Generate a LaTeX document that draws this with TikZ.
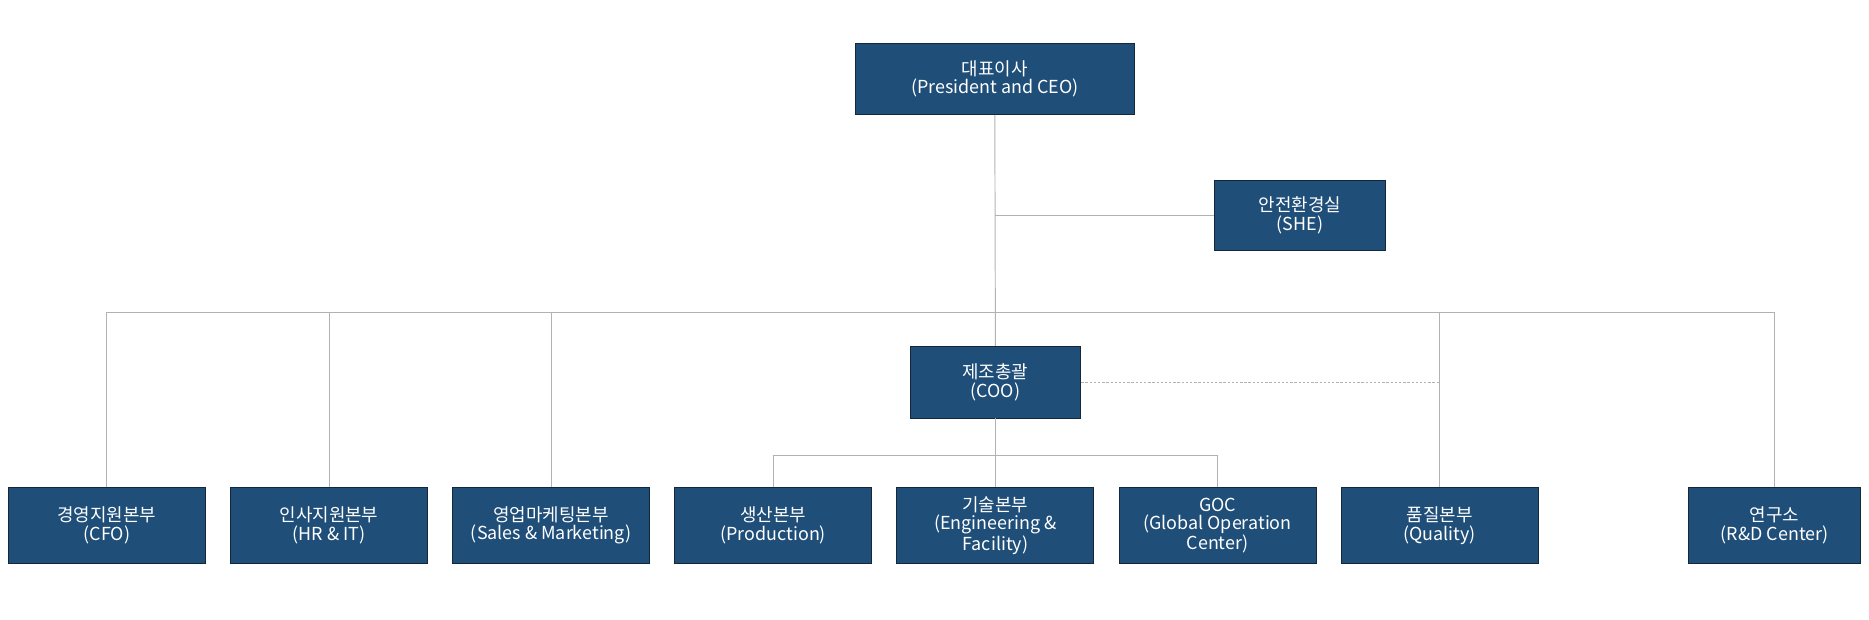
\documentclass[tikz,border=0pt]{standalone}
\usepackage{fontspec}
\setmainfont{Noto Sans CJK KR}
\begin{document}
\begin{tikzpicture}[x=1pt,y=-1pt,
 box/.style={draw={rgb,255:red,20;green,40;blue,60},line width=0.8pt,fill={rgb,255:red,31;green,78;blue,121},text=white,align=center,font=\fontsize{15}{15.5}\selectfont,inner sep=0pt},
 ln/.style={draw=black!30,line width=0.8pt}]
\useasboundingbox (0,0) rectangle (1565,519);
\newcommand\bx[6]{\node[box,minimum width=#4-#2,minimum height=#5-#3] (#1) at ({(#2+#4)/2},{(#3+#5)/2}) {#6};}
\bx{ceo}{716}{36}{950}{96}{대표이사\\(President and CEO)}
\bx{she}{1017}{151}{1160}{210}{안전환경실\\(SHE)}
\bx{coo}{762}{290}{905}{350}{제조총괄\\(COO)}
\bx{cfo}{7}{408}{172}{472}{경영지원본부\\(CFO)}
\bx{hr}{193}{408}{358}{472}{인사지원본부\\(HR \& IT)}
\bx{sm}{379}{408}{544}{472}{영업마케팅본부\\(Sales \& Marketing)}
\bx{pr}{565}{408}{730}{472}{생산본부\\(Production)}
\bx{en}{751}{408}{916}{472}{기술본부\\(Engineering \&\\Facility)}
\bx{goc}{937}{408}{1102}{472}{GOC\\(Global Operation\\Center)}
\bx{qu}{1123}{408}{1288}{472}{품질본부\\(Quality)}
\bx{rd}{1414}{408}{1558}{472}{연구소\\(R\&D Center)}
\coordinate (b1) at (833.5,262);
\coordinate (b2) at (833.5,381);
\draw[ln] (ceo.south) -- (coo.north);
\draw[ln] (ceo.south |- she.west) -- (she.west);
\draw[ln] (cfo.north) |- (b1) -| (rd.north);
\draw[ln] (hr.north) |- (b1);
\draw[ln] (sm.north) |- (b1);
\draw[ln] (qu.north) |- (b1);
\draw[ln] (coo.south) -- (en.north);
\draw[ln] (pr.north) |- (b2) -| (goc.north);
\draw[ln,dash pattern=on 2pt off 1.5pt] (coo.east) -- (qu.north |- coo.east);
\end{tikzpicture}
\end{document}
